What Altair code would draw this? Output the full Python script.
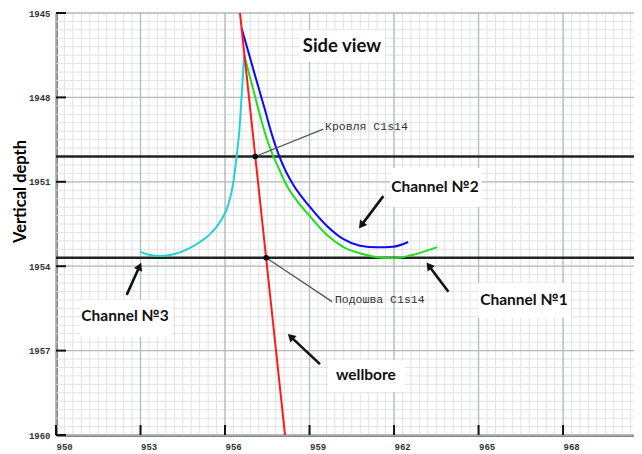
import math
import altair as alt
import pandas as pd

# ---------------- data ----------------
x_ticks = [950, 953, 956, 959, 962, 965, 968]
y_ticks = [1945, 1948, 1951, 1954, 1957, 1960]
x_minor = [round(950 + 0.3 * i, 2) for i in range(69)]
y_minor = [round(1945 + 0.3 * i, 2) for i in range(51)]

roof_depth = 1950.1    # Кровля C1s14
base_depth = 1953.7    # Подошва C1s14

well_x = [956.53, 958.13]
well_y = [1945.0, 1960.0]

ch2_x = [956.59, 957.06, 957.42, 957.67, 957.92, 958.17, 958.45, 959.02, 959.62, 960.19, 960.79, 961.40, 961.96, 962.50]
ch2_y = [1945.54, 1947.20, 1948.45, 1949.34, 1950.08, 1950.65, 1951.15, 1951.90, 1952.57, 1953.03, 1953.27, 1953.33, 1953.31, 1953.14]

ch1_x = [956.68, 956.96, 957.24, 957.45, 957.67, 957.92, 958.20, 958.59, 959.02, 959.62, 960.19, 960.79, 961.40, 961.96, 962.57, 963.53]
ch1_y = [1946.49, 1947.56, 1948.63, 1949.37, 1949.98, 1950.55, 1951.15, 1951.72, 1952.23, 1952.89, 1953.31, 1953.54, 1953.68, 1953.72, 1953.62, 1953.32]

ch3_x = [952.98, 953.34, 953.69, 954.05, 954.40, 954.76, 955.11, 955.47, 955.82, 956.11, 956.28, 956.41, 956.51, 956.58, 956.64, 956.68]
ch3_y = [1953.49, 1953.60, 1953.64, 1953.60, 1953.51, 1953.35, 1953.14, 1952.86, 1952.43, 1951.83, 1951.11, 1950.11, 1949.16, 1948.09, 1947.20, 1946.49]

pick_x = [957.07, 957.46]
pick_y = [roof_depth, base_depth]

horizon_labels = ["Кровля C1s14", "Подошва C1s14"]
label_x = [959.55, 959.90]
label_y = [1949.04, 1955.20]
leader_end_x = [959.49, 959.80]
leader_end_y = [1949.13, 1955.26]

captions = ["Side view", "Channel №2", "Channel №1", "Channel №3", "wellbore"]
cap_x = [960.15, 963.45, 966.61, 952.45, 961.00]
cap_y = [1946.17, 1951.19, 1955.20, 1955.77, 1957.87]
cap_size = [18.5, 15.5, 15.5, 15.5, 15.5]
box_x1 = [958.66, 961.86, 964.98, 950.85, 959.66]
box_x2 = [961.68, 965.12, 968.25, 954.12, 962.39]
box_y1 = [1945.60, 1950.51, 1954.60, 1955.20, 1957.34]
box_y2 = [1946.74, 1951.90, 1955.84, 1956.52, 1958.47]

arr_tx = [961.62, 963.93, 952.51, 959.37]
arr_ty = [1951.51, 1954.91, 1955.02, 1957.48]
arr_hx = [960.73, 963.13, 953.04, 958.20]
arr_hy = [1952.69, 1953.84, 1953.84, 1956.38]

# ---------------- layout ----------------
W, H = 578, 422
PXX = 28.17
PXY = H / 15.0
xs = alt.Scale(domain=[950, 950 + W / PXX], nice=False, zero=False)
ys = alt.Scale(domain=[1945, 1960], reverse=True, nice=False, zero=False)

AX = alt.Axis(
    values=x_ticks, title=None, grid=False, ticks=False, format="d",
    labelAlign="left", labelBaseline="top", labelPadding=7,
    labelFont="Liberation Mono", labelFontSize=9, labelFlush=False,
    labelFontWeight="bold", labelColor="#333", domainColor="#111", domainWidth=2)
AY = alt.Axis(
    values=y_ticks, title="Vertical depth", grid=False, ticks=False, format="d",
    labelAlign="right", labelBaseline="middle", labelPadding=6,
    labelFont="Liberation Mono", labelFontSize=9,
    labelFontWeight="bold", labelColor="#333", domainColor="#111", domainWidth=2,
    titleFont="Lato", titleFontSize=16.5, titleFontWeight="bold", titleColor="#000",
    titleAngle=270, titleAlign="center", titleBaseline="middle",
    titleX=-36, titleY=178)


def X(f):
    return alt.X(f, type="quantitative", scale=xs, axis=AX)


def Y(f):
    return alt.Y(f, type="quantitative", scale=ys, axis=AY)


layers = []

# minor grid
layers.append(alt.Chart(pd.DataFrame({"v": x_minor})).mark_rule(color="#e2e2e2", strokeWidth=1).encode(x=X("v")))
layers.append(alt.Chart(pd.DataFrame({"v": y_minor})).mark_rule(color="#e2e2e2", strokeWidth=1).encode(y=Y("v")))
# major grid
layers.append(alt.Chart(pd.DataFrame({"v": x_ticks})).mark_rule(color="#b3bbbb", strokeWidth=1.3).encode(x=X("v")))
layers.append(alt.Chart(pd.DataFrame({"v": y_ticks})).mark_rule(color="#b3bbbb", strokeWidth=1.3).encode(y=Y("v")))

boxes = pd.DataFrame({"x1": box_x1, "x2": box_x2, "y1": box_y1, "y2": box_y2})
layers.append(alt.Chart(boxes).mark_rect(fill="white").encode(
    x=X("x1"), x2="x2", y=Y("y1"), y2="y2"))

layers.append(alt.Chart(pd.DataFrame({"v": [roof_depth, base_depth]})).mark_rule(
    color="#222", strokeWidth=2.5).encode(y=Y("v")))


def curve(xv, yv, color):
    df = pd.DataFrame({"x": xv, "y": yv, "o": list(range(len(xv)))})
    return alt.Chart(df).mark_line(color=color, strokeWidth=2, interpolate="monotone", clip=True).encode(
        x=X("x"), y=Y("y"), order="o:Q")


layers.append(curve(ch3_x, ch3_y, "#22d3d3"))
layers.append(curve(ch1_x, ch1_y, "#1ee01e"))
layers.append(curve(ch2_x, ch2_y, "#0a0aff"))
layers.append(curve(well_x, well_y, "#ff1a1a"))

lead_rows = []
for i in range(2):
    lead_rows.append({"x": pick_x[i], "y": pick_y[i], "id": i, "o": 0})
    lead_rows.append({"x": leader_end_x[i], "y": leader_end_y[i], "id": i, "o": 1})
layers.append(alt.Chart(pd.DataFrame(lead_rows)).mark_line(color="#555", strokeWidth=1.3).encode(
    x=X("x"), y=Y("y"), detail="id:N", order="o:Q"))

layers.append(alt.Chart(pd.DataFrame({"x": pick_x, "y": pick_y})).mark_point(
    filled=True, color="#000", size=30, opacity=1).encode(x=X("x"), y=Y("y")))

layers.append(alt.Chart(pd.DataFrame({"x": label_x, "y": label_y, "t": horizon_labels})).mark_text(
    font="Liberation Mono", fontSize=11.5, color="#333", align="left", baseline="middle").encode(
    x=X("x"), y=Y("y"), text="t:N"))

shaft_rows, head_rows = [], []
for i in range(len(arr_tx)):
    sdx = (arr_hx[i] - arr_tx[i]) * PXX
    sdy = (arr_hy[i] - arr_ty[i]) * PXY
    ln = math.hypot(sdx, sdy)
    ang = math.degrees(math.atan2(sdx, -sdy)) % 360
    back = 5.0
    cx = arr_hx[i] - sdx / ln * back / PXX
    cy = arr_hy[i] - sdy / ln * back / PXY
    shaft_rows.append({"x": arr_tx[i], "y": arr_ty[i], "id": i, "o": 0})
    shaft_rows.append({"x": cx, "y": cy, "id": i, "o": 1})
    head_rows.append({"x": cx, "y": cy, "a": ang})
layers.append(alt.Chart(pd.DataFrame(shaft_rows)).mark_line(color="#111", strokeWidth=2.6).encode(
    x=X("x"), y=Y("y"), detail="id:N", order="o:Q"))
layers.append(alt.Chart(pd.DataFrame(head_rows)).mark_point(
    shape="triangle-up", filled=True, color="#111", size=80, opacity=1).encode(
    x=X("x"), y=Y("y"), angle=alt.Angle("a:Q", scale=None)))

cap_df = pd.DataFrame({"x": cap_x, "y": cap_y, "t": captions, "s": cap_size})
layers.append(alt.Chart(cap_df).mark_text(
    font="Lato", fontWeight="bold", color="#111", align="center", baseline="middle").encode(
    x=X("x"), y=Y("y"), text="t:N", size=alt.Size("s:Q", scale=None)))

layers.append(alt.Chart(pd.DataFrame({"v": x_ticks})).mark_rule(color="#111", strokeWidth=2).encode(
    x=X("v"), y=alt.value(H), y2=alt.value(H - 10)))
layers.append(alt.Chart(pd.DataFrame({"v": y_ticks})).mark_rule(color="#111", strokeWidth=2).encode(
    y=Y("v"), x=alt.value(0), x2=alt.value(10)))

chart = alt.layer(*layers).properties(
    width=W, height=H,
    autosize=alt.AutoSizeParams(type="none"),
    padding={"left": 48, "top": 5, "right": 0, "bottom": 16},
).configure_view(stroke=None)

chart.save("out.html", embed_options={"renderer": "svg", "actions": False})
